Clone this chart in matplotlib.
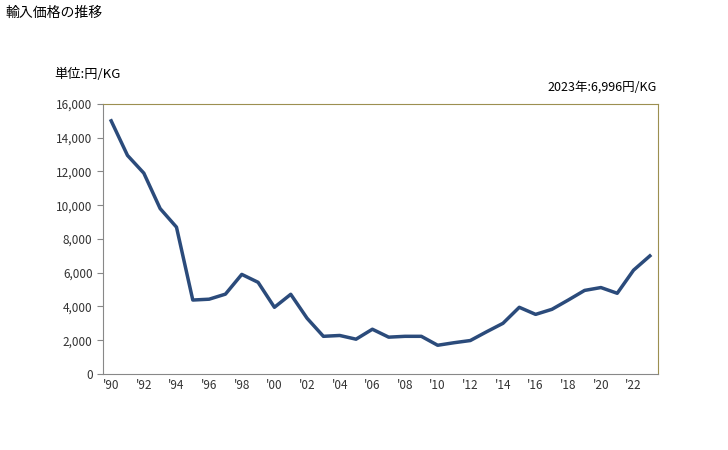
import numpy as np
import matplotlib
matplotlib.use("Agg")
import matplotlib.pyplot as plt
from matplotlib.ticker import FuncFormatter

plt.rcParams['font.family'] = ['Noto Sans CJK JP', 'DejaVu Sans']

years = list(range(1990, 2024))
prices = [15000, 12950, 11900, 9800, 8700, 4380, 4430, 4730, 5900, 5430,
          3950, 4720, 3300, 2230, 2280, 2060, 2650, 2180, 2230, 2230,
          1700, 1850, 1980, 2500, 3000, 3950, 3530, 3830, 4380, 4950,
          5120, 4780, 6150, 6996]
tick_labels = ["'%02d" % (y % 100) for y in years[::2]]

fig = plt.figure(figsize=(7.28, 4.5), dpi=100)
ax = fig.add_axes([0.1415, 0.169, 0.7624, 0.6])

x = np.arange(len(years))
ax.plot(x, prices, color='#2b4b7b', linewidth=2.5, solid_joinstyle='round')

ax.set_xlim(-0.5, len(years) - 0.5)
ax.set_ylim(0, 16000)
ax.set_yticks(range(0, 16001, 2000))
ax.yaxis.set_major_formatter(FuncFormatter(lambda v, p: '{:,.0f}'.format(v)))
ax.set_xticks(x[::2])
ax.set_xticklabels(tick_labels)
ax.tick_params(axis='both', labelsize=8.5, colors='#333333', length=4, width=0.8)
ax.tick_params(axis='x', length=0)
ax.tick_params(axis='y', color='#888888')

for s in ['left', 'bottom']:
    ax.spines[s].set_color('#888888')
for s in ['top', 'right']:
    ax.spines[s].set_color('#9c8f50')

fig.text(0.007, 0.972, '輸入価格の推移', fontsize=10, va='center', ha='left')
fig.text(0.075, 0.835, '単位:円/KG', fontsize=9.5, va='center', ha='left')
fig.text(0.902, 0.806, '2023年:6,996円/KG', fontsize=9, va='center', ha='right')

fig.savefig('out.png', dpi=100)
